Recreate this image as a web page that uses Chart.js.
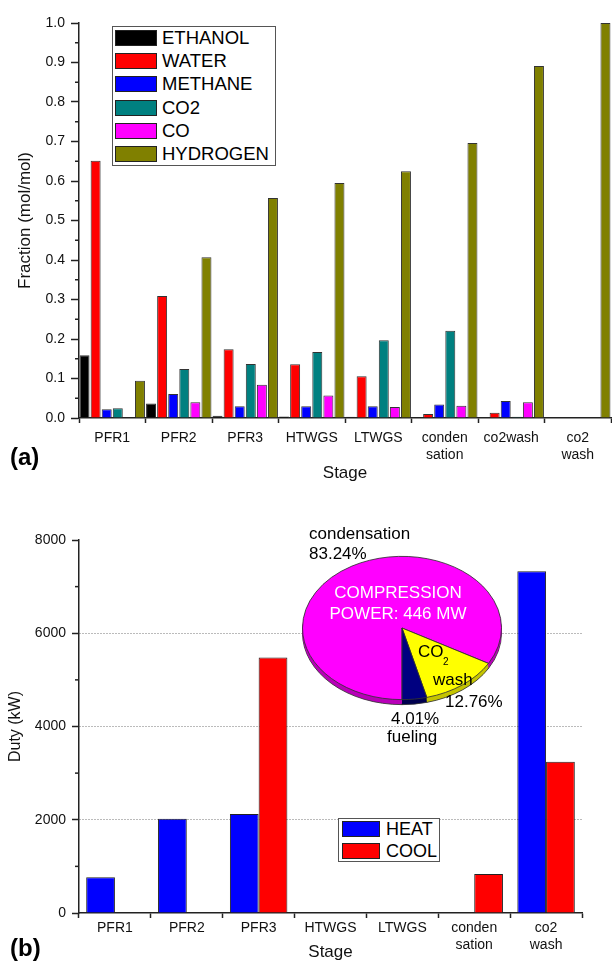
<!DOCTYPE html>
<html>
<head>
<meta charset="utf-8">
<script src="https://cdn.jsdelivr.net/npm/chart.js@4.4.1/dist/chart.umd.min.js"></script>
<style>
  html, body { margin: 0; padding: 0; background: #fff; }
  #page { position: relative; width: 612px; height: 963px; overflow: hidden; font-family: 'Liberation Sans', Arial, sans-serif; }
  canvas { position: absolute; }
  #cA { left: 0; top: 0; }
  #cB { left: 0; top: 490px; }
  #cPie { left: 292px; top: 510px; }
  .legend { position: absolute; box-sizing: border-box; background: #fff; border: 1px solid #555; }
  .legend .sw { position: absolute; box-sizing: border-box; border: 1px solid #222; }
  .legend .tx { position: absolute; color: #000; white-space: nowrap; }
</style>
</head>
<body>
<div id="page">
  <canvas id="cA" width="612" height="490"></canvas>
  <canvas id="cB" width="612" height="473"></canvas>
  <canvas id="cPie" width="220" height="240"></canvas>
  <div id="legA" class="legend" style="left:112px;top:26px;width:164px;height:140px"></div>
  <div id="legB" class="legend" style="left:338px;top:818px;width:102px;height:44px"></div>
</div>
<script>
// (a) composition per stage
const stagesA = ['PFR1', 'PFR2', 'PFR3', 'HTWGS', 'LTWGS', ['conden', 'sation'], 'co2wash', ['co2', 'wash']];
const ethanol  = [0.159, 0.037, 0.006, 0.004, 0.003, 0.002, 0, 0];
const water    = [0.651, 0.309, 0.174, 0.136, 0.106, 0.010, 0.013, 0];
const methane  = [0.022, 0.061, 0.030, 0.030, 0.030, 0.034, 0.043, 0];
const co2      = [0.025, 0.124, 0.137, 0.167, 0.197, 0.221, 0.003, 0];
const co       = [0, 0.040, 0.084, 0.057, 0.028, 0.031, 0.040, 0];
const hydrogen = [0.094, 0.407, 0.557, 0.595, 0.625, 0.696, 0.891, 1.0];

// (b) duties per stage
const stagesB = ['PFR1', 'PFR2', 'PFR3', 'HTWGS', 'LTWGS', ['conden', 'sation'], ['co2', 'wash']];
const heat = [765, 2021, 2122, 0, 0, 0, 7331];
const cool = [0, 0, 5480, 0, 0, 836, 3243];

// inset pie: compression power split
const pieLabels = ['condensation', 'CO2 wash', 'fueling'];
const pieShares = [83.24, 12.76, 4.01];

Chart.defaults.font.family = "'Liberation Sans', Arial, sans-serif";
Chart.defaults.color = '#111';

// petits traits intermédiaires sur l'axe y + lettre du panneau
const axisExtras = {
  id: 'axisExtras',
  afterDraw(chart, args, opts) {
    const y = chart.scales.y;
    const ctx = chart.ctx;
    ctx.save();
    ctx.strokeStyle = '#222';
    ctx.lineWidth = 1.5;
    const t = y.ticks;
    for (let i = 0; i < t.length - 1; i++) {
      const py = y.getPixelForValue((t[i].value + t[i + 1].value) / 2);
      ctx.beginPath();
      ctx.moveTo(y.right - opts.minorLen, py);
      ctx.lineTo(y.right, py);
      ctx.stroke();
    }
    ctx.font = "bold 24px 'Liberation Sans', Arial, sans-serif";
    ctx.fillStyle = '#000';
    ctx.textBaseline = 'middle';
    ctx.fillText(opts.letter, opts.lx, opts.ly);
    ctx.restore();
  }
};

function barOptions(o) {
  return {
    responsive: false,
    animation: false,
    events: [],
    layout: { padding: o.padding },
    plugins: {
      legend: { display: false },
      tooltip: { enabled: false },
      axisExtras: o.extras
    },
    scales: {
      x: {
        ticks: { font: { size: 14 }, color: '#111', padding: o.xPad, autoSkip: false, maxRotation: 0 },
        grid: { drawOnChartArea: false, tickLength: 5, tickColor: '#222', tickWidth: 1.5 },
        border: { color: '#222', width: 1.5 },
        title: { display: true, text: 'Stage', font: { size: 17 }, color: '#111', padding: { top: 0, bottom: o.titlePad } },
        afterFit: s => { s.height = o.xHeight; }
      },
      y: o.y
    }
  };
}

const chartA = new Chart(document.getElementById('cA'), {
  type: 'bar',
  data: {
    labels: stagesA,
    datasets: [
      { label: 'ETHANOL', data: ethanol, backgroundColor: '#000000' },
      { label: 'WATER', data: water, backgroundColor: '#FF0000' },
      { label: 'METHANE', data: methane, backgroundColor: '#0000FF' },
      { label: 'CO2', data: co2, backgroundColor: '#008080' },
      { label: 'CO', data: co, backgroundColor: '#FF00FF' },
      { label: 'HYDROGEN', data: hydrogen, backgroundColor: '#808000' }
    ].map(d => Object.assign(d, { borderColor: '#333', borderWidth: 1, barPercentage: 0.9, categoryPercentage: 1.0 }))
  },
  options: barOptions({
    padding: { left: 0, right: 1, top: 23, bottom: 0 },
    xPad: 7, xHeight: 72, titlePad: 6,
    extras: { minorLen: 4, letter: '(a)', lx: 10, ly: 458 },
    y: {
      min: 0, max: 1,
      ticks: { stepSize: 0.1, callback: v => v.toFixed(1), font: { size: 14 }, color: '#111', padding: 6 },
      grid: { drawOnChartArea: false, tickLength: 8, tickColor: '#222', tickWidth: 1.5 },
      border: { color: '#222', width: 1.5 },
      title: { display: true, text: 'Fraction (mol/mol)', font: { size: 17 }, color: '#111', padding: { top: 15, bottom: 0 } },
      afterFit: s => { s.width = 79; }
    }
  }),
  plugins: [axisExtras]
});

const chartB = new Chart(document.getElementById('cB'), {
  type: 'bar',
  data: {
    labels: stagesB,
    datasets: [
      { label: 'HEAT', data: heat, backgroundColor: '#0000FF' },
      { label: 'COOL', data: cool, backgroundColor: '#FF0000' }
    ].map(d => Object.assign(d, { borderColor: '#222', borderWidth: 1, barPercentage: 1.0, categoryPercentage: 0.8 }))
  },
  options: barOptions({
    padding: { left: 0, right: 30, top: 50, bottom: 0 },
    xPad: 2, xHeight: 50, titlePad: 0,
    extras: { minorLen: 4, letter: '(b)', lx: 10, ly: 459 },
    y: {
      min: 0, max: 8000,
      ticks: { stepSize: 2000, callback: v => String(v), font: { size: 14 }, color: '#111', padding: 6 },
      grid: {
        color: c => (c.tick && c.tick.value > 0 && c.tick.value < 8000) ? '#777' : 'rgba(0,0,0,0)',
        lineWidth: 1, tickLength: 7, tickColor: '#222', tickWidth: 1.5
      },
      border: { color: '#222', width: 1.5, dash: [1, 2] },
      title: { display: true, text: 'Duty (kW)', font: { size: 16 }, color: '#111', padding: { top: 6, bottom: 0 } },
      afterFit: s => { s.width = 79; }
    }
  }),
  plugins: [axisExtras]
});

// camembert incliné : on écrase en y et on ajoute une tranche
const tilt = {
  id: 'tilt',
  beforeDatasetsDraw(chart, args, opts) {
    const arcs = chart.getDatasetMeta(0).data;
    const { x, y } = arcs[0];
    const ctx = chart.ctx;
    ctx.save();
    ctx.translate(x, y);
    ctx.scale(1, opts.squash);
    ctx.translate(-x, -y);
    for (let d = opts.depth; d >= 1; d--) {
      const oy = y + d / opts.squash;
      arcs.forEach((a, i) => {
        ctx.beginPath();
        ctx.moveTo(x, oy);
        ctx.arc(x, oy, a.outerRadius, a.startAngle, a.endAngle);
        ctx.closePath();
        ctx.fillStyle = opts.sides[i];
        ctx.fill();
        if (d === opts.depth) {
          ctx.lineWidth = 1;
          ctx.strokeStyle = '#333';
          ctx.stroke();
        }
      });
    }
  },
  afterDatasetsDraw(chart) {
    chart.ctx.restore();
  },
  afterDraw(chart) {
    const ctx = chart.ctx;
    const f = s => s + "px 'Liberation Sans', Arial, sans-serif";
    ctx.save();
    ctx.textBaseline = 'middle';
    ctx.fillStyle = '#000';
    ctx.font = f(17);
    ctx.textAlign = 'left';
    ctx.fillText(pieLabels[0], 17, 24);
    ctx.fillText(pieShares[0].toFixed(2) + '%', 17, 44);
    ctx.fillText('CO', 126, 142);
    ctx.fillText('wash', 141, 170);
    ctx.fillText(pieShares[1].toFixed(2) + '%', 153, 192);
    ctx.fillText(pieShares[2].toFixed(2) + '%', 99, 209);
    ctx.fillText(pieLabels[2], 95, 227);
    ctx.font = f(10);
    ctx.fillText('2', 151, 152);
    ctx.fillStyle = '#fff';
    ctx.font = f(17);
    ctx.textAlign = 'center';
    ctx.fillText('COMPRESSION', 106, 83);
    ctx.fillText('POWER: 446 MW', 106, 104);
    ctx.restore();
  }
};

new Chart(document.getElementById('cPie'), {
  type: 'pie',
  data: {
    labels: pieLabels,
    datasets: [{
      data: pieShares,
      backgroundColor: ['#FF00FF', '#FFFF00', '#000080'],
      borderColor: '#333',
      borderWidth: 1
    }]
  },
  options: {
    responsive: false,
    animation: false,
    events: [],
    rotation: 180,
    layout: { padding: { left: 10, right: 10, top: 18, bottom: 22 } },
    plugins: {
      legend: { display: false },
      tooltip: { enabled: false },
      tilt: { squash: 0.72, depth: 5, sides: ['#B800B8', '#C4C400', '#000050'] }
    }
  },
  plugins: [tilt]
});

// légendes encadrées, construites depuis les datasets
function htmlLegend(chart, el, o) {
  chart.data.datasets.forEach((ds, i) => {
    const top = o.sy + i * o.pitch;
    const sw = document.createElement('div');
    sw.className = 'sw';
    sw.style.cssText = `left:${o.sx}px;top:${top}px;width:${o.sw}px;height:${o.sh}px;background:${ds.backgroundColor}`;
    const tx = document.createElement('div');
    tx.className = 'tx';
    tx.textContent = ds.label;
    tx.style.cssText = `left:${o.tx}px;top:${top + o.sh / 2}px;font-size:${o.fs}px;line-height:${o.fs}px;transform:translateY(-50%)`;
    el.append(sw, tx);
  });
}
htmlLegend(chartA, document.getElementById('legA'), { sx: 2, sy: 3, sw: 42, sh: 16, pitch: 23.2, tx: 49, fs: 18.5 });
htmlLegend(chartB, document.getElementById('legB'), { sx: 3, sy: 2, sw: 38, sh: 16, pitch: 22, tx: 47, fs: 18 });
</script>
</body>
</html>
